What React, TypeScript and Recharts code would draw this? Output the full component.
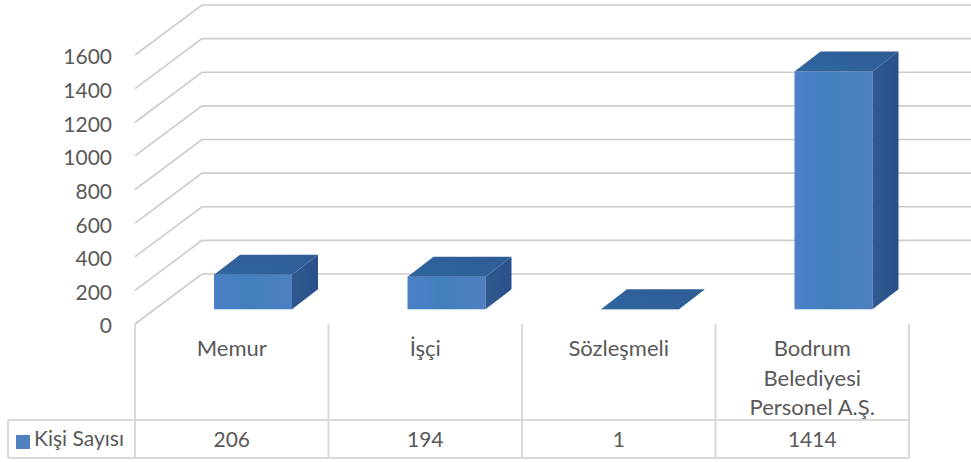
import { BarChart, Bar, XAxis, YAxis, CartesianGrid, Legend } from 'recharts';

const categories = ['Memur', 'İşçi', 'Sözleşmeli', 'Bodrum\nBelediyesi\nPersonel A.Ş.'];
const values = [206, 194, 1, 1414];
const yTicks = [0, 200, 400, 600, 800, 1000, 1200, 1400, 1600];
const seriesName = 'Kişi Sayısı';

const data = categories.map((name, i) => ({ name, value: values[i] }));

const WIDTH = 971;
const HEIGHT = 462;
const MARGIN = { top: 55, right: 62, bottom: 0, left: 0 };
const AXIS_WIDTH = 135;
const AXIS_HEIGHT = 138;
const COL_WIDTH = (WIDTH - AXIS_WIDTH - MARGIN.right) / categories.length;

// perspective of the 3D box: floor depth and bar depth
const WALL_DX = 67;
const WALL_DY = 50;
const BAR_SHIFT_X = 21;
const BAR_SHIFT_Y = 14.7;
const BAR_DX = 26;
const BAR_DY = 20;

const TEXT = '#595959';
const LINE = '#d9d9d9';
const ROW_TOP = 96;
const ROW_BOTTOM = 134;
const KEY_LEFT = 8;

// each gridline runs along the side wall, then across the back wall
const WallLine = (props: any) => {
  const { x1, y1 } = props;
  const bx = x1 + WALL_DX;
  const by = y1 - WALL_DY;
  return (
    <path
      key={`wall-${y1}`}
      d={`M${x1},${y1}L${bx},${by}L${WIDTH},${by}`}
      fill="none"
      stroke="#cbcbcb"
      strokeWidth={1.6}
    />
  );
};

const Box = (props: any) => {
  const { x, y, width, height } = props;
  const left = x + BAR_SHIFT_X;
  const right = left + width;
  const top = y - BAR_SHIFT_Y;
  const bottom = top + height;
  return (
    <g>
      <rect x={left} y={top} width={width} height={height} fill="url(#barFront)" />
      <path
        d={`M${left},${top}L${left + BAR_DX},${top - BAR_DY}L${right + BAR_DX},${top - BAR_DY}L${right},${top}Z`}
        fill="url(#barTop)"
      />
      <path
        d={`M${right},${top}L${right + BAR_DX},${top - BAR_DY}L${right + BAR_DX},${bottom - BAR_DY}L${right},${bottom}Z`}
        fill="url(#barSide)"
      />
    </g>
  );
};

// category label and value cell of the data table under the plot
const TableTick = (props: any) => {
  const { x, y, payload, index } = props;
  const left = x - COL_WIDTH / 2;
  const right = x + COL_WIDTH / 2;
  const lines = String(payload.value).split('\n');
  return (
    <g>
      {index === 0 && (
        <>
          <path
            d={`M${left},${y}V${y + ROW_BOTTOM}M${KEY_LEFT},${y + ROW_TOP}V${y + ROW_BOTTOM}M${KEY_LEFT},${y + ROW_TOP}H${left}M${KEY_LEFT},${y + ROW_BOTTOM}H${left}`}
            fill="none"
            stroke={LINE}
            strokeWidth={2}
          />
        </>
      )}
      <path
        d={`M${right},${y}V${y + ROW_BOTTOM}M${left},${y + ROW_TOP}H${right}M${left},${y + ROW_BOTTOM}H${right}`}
        fill="none"
        stroke={LINE}
        strokeWidth={2}
      />
      {lines.map((line, i) => (
        <text key={line} x={x} y={y + 23.5 + i * 29.5} textAnchor="middle" dominantBaseline="central" fontSize={22} fill={TEXT}>
          {line}
        </text>
      ))}
      <text x={x} y={y + 114.5} textAnchor="middle" dominantBaseline="central" fontSize={21} fill={TEXT}>
        {values[index]}
      </text>
    </g>
  );
};

const App = () => {
  return (
    <div style={{ position: 'absolute', left: 0, top: 0, width: WIDTH, height: HEIGHT, fontFamily: 'Lato, sans-serif' }}>
      <BarChart width={WIDTH} height={HEIGHT} data={data} margin={MARGIN} barSize={78}>
        <defs>
          <linearGradient id="barFront" x1="0" y1="0" x2="1" y2="0">
            <stop offset="0%" stopColor="#4c80c8" />
            <stop offset="45%" stopColor="#427fbd" />
            <stop offset="100%" stopColor="#4f80c2" />
          </linearGradient>
          <linearGradient id="barTop" x1="0" y1="1" x2="1" y2="0">
            <stop offset="0%" stopColor="#2f659f" />
            <stop offset="100%" stopColor="#2f5c95" />
          </linearGradient>
          <linearGradient id="barSide" x1="0" y1="0" x2="1" y2="0">
            <stop offset="0%" stopColor="#305a8f" />
            <stop offset="100%" stopColor="#28508a" />
          </linearGradient>
        </defs>
        <CartesianGrid vertical={false} horizontal={WallLine} />
        <XAxis
          dataKey="name"
          height={AXIS_HEIGHT}
          interval={0}
          axisLine={false}
          tickLine={false}
          tickSize={0}
          tickMargin={0}
          tick={TableTick}
        />
        <YAxis
          width={AXIS_WIDTH}
          domain={[0, 1600]}
          ticks={yTicks}
          interval={0}
          axisLine={false}
          tickLine={false}
          tickSize={0}
          tickMargin={23}
          tick={{ fill: TEXT, fontSize: 21, dy: 2 }}
        />
        <Legend
          layout="horizontal"
          verticalAlign="middle"
          align="center"
          iconType="square"
          iconSize={14}
          wrapperStyle={{ left: 16, top: 425, width: 118, height: 26, textAlign: 'left', whiteSpace: 'nowrap' }}
          formatter={(value) => <span style={{ color: TEXT, fontSize: 21 }}>{value}</span>}
        />
        <Bar dataKey="value" name={seriesName} fill="#4f81bd" shape={Box} isAnimationActive={false} />
      </BarChart>
    </div>
  );
};

export default App;
